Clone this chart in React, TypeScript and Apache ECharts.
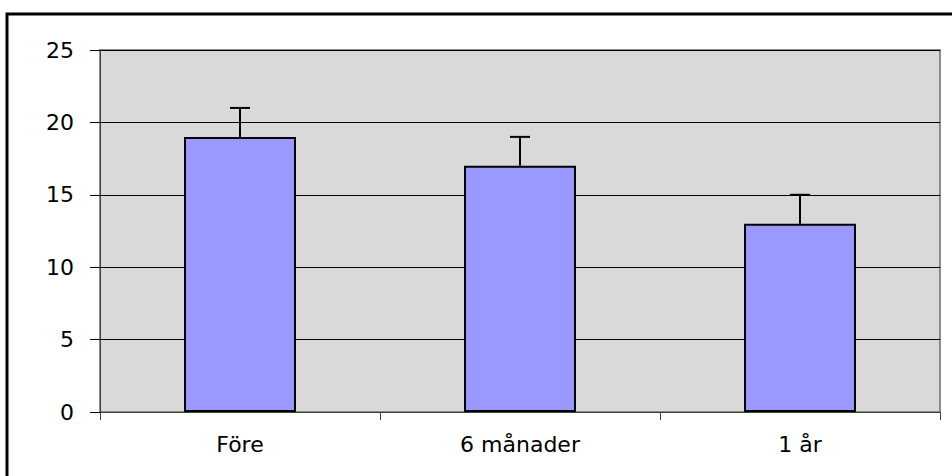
import React, { useEffect, useRef } from "react";
import * as echarts from "echarts";

const categories = ["Före", "6 månader", "1 år"];
const values = [19, 17, 13];
const errorsUp = [2, 2, 2];
const yTicks = { min: 0, max: 25, interval: 5 };

export default function App() {
  const ref = useRef<HTMLDivElement>(null);
  useEffect(() => {
    if (!ref.current) return;
    const chart = echarts.init(ref.current, undefined, { renderer: "svg" });
    const font = "DejaVu Sans, Verdana, sans-serif";
    chart.setOption({
      animation: false,
      graphic: [
        {
          type: "rect",
          shape: { x: 7, y: 14, width: 960, height: 480 },
          style: { fill: "none", stroke: "#000", lineWidth: 3 },
          z: 100,
        },
      ],
      grid: {
        left: 100,
        right: 12,
        top: 50,
        bottom: 64,
        show: true,
        backgroundColor: "#d9d9d9",
        borderColor: "#8c8c8c",
        borderWidth: 2,
      },
      xAxis: {
        type: "category",
        data: categories,
        axisLine: { lineStyle: { color: "#404040", width: 1 } },
        axisTick: { show: true, length: 8, lineStyle: { color: "#404040" } },
        axisLabel: { color: "#000", fontSize: 22, fontFamily: font, margin: 21 },
        splitLine: { show: false },
      },
      yAxis: {
        type: "value",
        min: yTicks.min,
        max: yTicks.max,
        interval: yTicks.interval,
        axisLine: { show: true, lineStyle: { color: "#404040", width: 1 } },
        axisTick: { show: true, length: 10, lineStyle: { color: "#000" } },
        axisLabel: { color: "#000", fontSize: 22, fontFamily: font, margin: 26 },
        splitLine: { show: true, lineStyle: { color: "#000", width: 1 } },
      },
      series: [
        {
          type: "bar",
          data: values,
          barWidth: "40%",
          itemStyle: { color: "#9999ff", borderColor: "#000", borderWidth: 2 },
        },
        {
          type: "custom",
          data: values.map((v, i) => [i, v, v + errorsUp[i]]),
          z: 10,
          renderItem: (params: any, api: any) => {
            const x = api.value(0);
            const base = api.coord([x, api.value(1)]);
            const top = api.coord([x, api.value(2)]);
            const style = { stroke: "#000", lineWidth: 2 };
            return {
              type: "group",
              children: [
                { type: "line", shape: { x1: base[0], y1: base[1], x2: top[0], y2: top[1] }, style },
                { type: "line", shape: { x1: top[0] - 10, y1: top[1], x2: top[0] + 10, y2: top[1] }, style },
              ],
            };
          },
        },
      ],
    });
    return () => chart.dispose();
  }, []);
  return <div ref={ref} style={{ width: 952, height: 476, position: "absolute", left: 0, top: 0 }} />;
}
